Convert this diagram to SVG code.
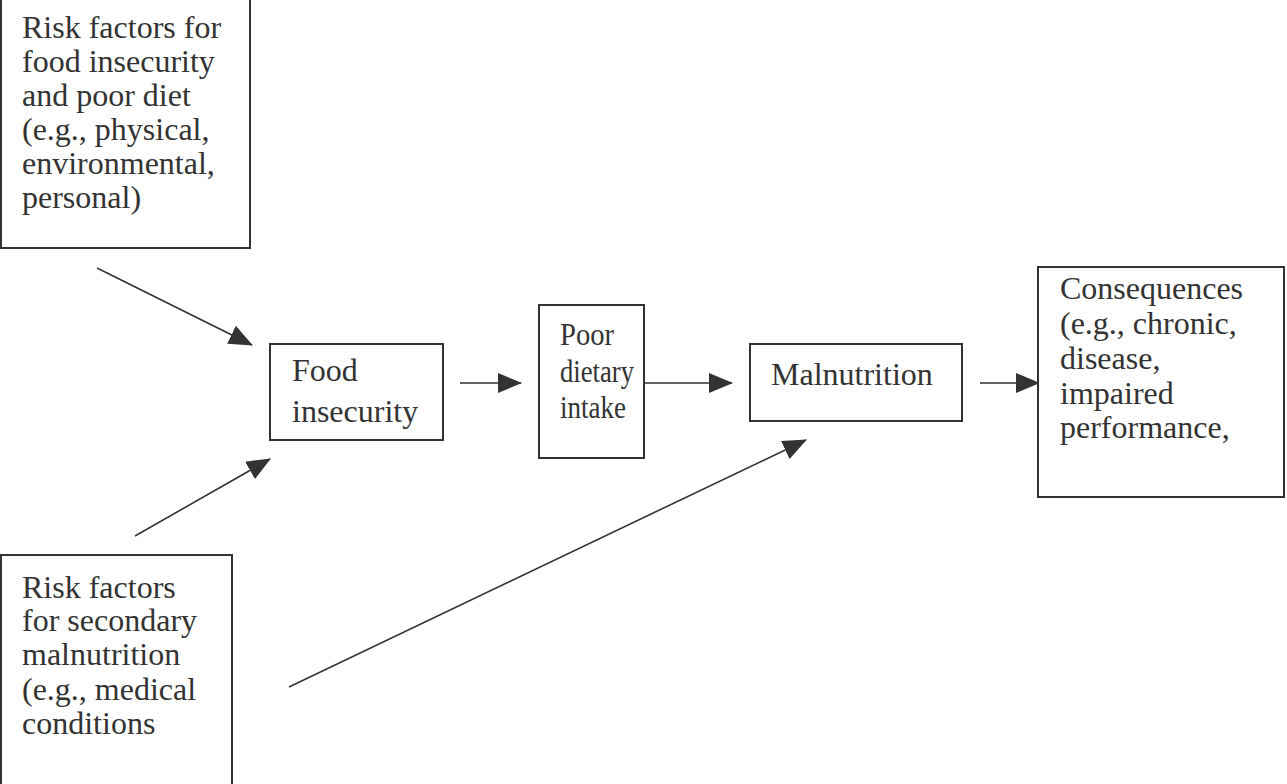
<svg xmlns="http://www.w3.org/2000/svg" width="1287" height="784" viewBox="0 0 1287 784">
<style>
.box{fill:#fff;stroke:#333;stroke-width:2}
.t{font-family:"Liberation Serif","Times New Roman",serif;font-size:32px;fill:#333}
.s{font-size:31px}
.c{stroke:#333;stroke-width:1.6;fill:none}
</style>
<defs>
<marker id="ah" markerUnits="userSpaceOnUse" markerWidth="24" markerHeight="20" viewBox="0 0 24 20" refX="23" refY="10" orient="auto">
<path d="M0,0 L24,10 L0,20 Z" fill="#333"/>
</marker>
</defs>
<rect width="1287" height="784" fill="#fff"/>
<g id="connectors">
<line class="c" x1="97" y1="268" x2="252" y2="345" marker-end="url(#ah)"/>
<line class="c" x1="135" y1="536" x2="270" y2="459" marker-end="url(#ah)"/>
<line class="c" x1="460" y1="383" x2="521" y2="383" marker-end="url(#ah)"/>
<line class="c" x1="644" y1="383" x2="732" y2="383" marker-end="url(#ah)"/>
<line class="c" x1="980" y1="383" x2="1039" y2="383" marker-end="url(#ah)"/>
<line class="c" x1="289" y1="687" x2="806" y2="440" marker-end="url(#ah)"/>
</g>
<g id="risk-food">
<rect class="box" x="1" y="-3" width="249" height="251"/>
<text class="t" x="22" y="38">Risk factors for</text>
<text class="t" x="22" y="72">food insecurity</text>
<text class="t" x="22" y="106">and poor diet</text>
<text class="t" x="22" y="140">(e.g., physical,</text>
<text class="t" x="22" y="174">environmental,</text>
<text class="t" x="22" y="208">personal)</text>
</g>
<g id="food-insecurity">
<rect class="box" x="270" y="344" width="173" height="96"/>
<text class="t" x="292" y="381">Food</text>
<text class="t" x="292" y="422">insecurity</text>
</g>
<g id="poor-dietary">
<rect class="box" x="539" y="305" width="105" height="153"/>
<text class="t s" x="560" y="345" textLength="54" lengthAdjust="spacingAndGlyphs">Poor</text>
<text class="t s" x="560" y="382" textLength="74" lengthAdjust="spacingAndGlyphs">dietary</text>
<text class="t s" x="560" y="418" textLength="66" lengthAdjust="spacingAndGlyphs">intake</text>
</g>
<g id="malnutrition">
<rect class="box" x="750" y="344" width="212" height="77"/>
<text class="t" x="771" y="385">Malnutrition</text>
</g>
<g id="consequences">
<rect class="box" x="1038" y="267" width="246" height="230"/>
<text class="t" x="1060" y="299">Consequences</text>
<text class="t" x="1060" y="334">(e.g., chronic,</text>
<text class="t" x="1060" y="369">disease,</text>
<text class="t" x="1060" y="403.5">impaired</text>
<text class="t" x="1060" y="438">performance,</text>
</g>
<g id="risk-secondary">
<rect class="box" x="1" y="555" width="231" height="235"/>
<text class="t" x="22" y="598">Risk factors</text>
<text class="t" x="22" y="631">for secondary</text>
<text class="t" x="22" y="665">malnutrition</text>
<text class="t" x="22" y="700">(e.g., medical</text>
<text class="t" x="22" y="734">conditions</text>
</g>
</svg>
